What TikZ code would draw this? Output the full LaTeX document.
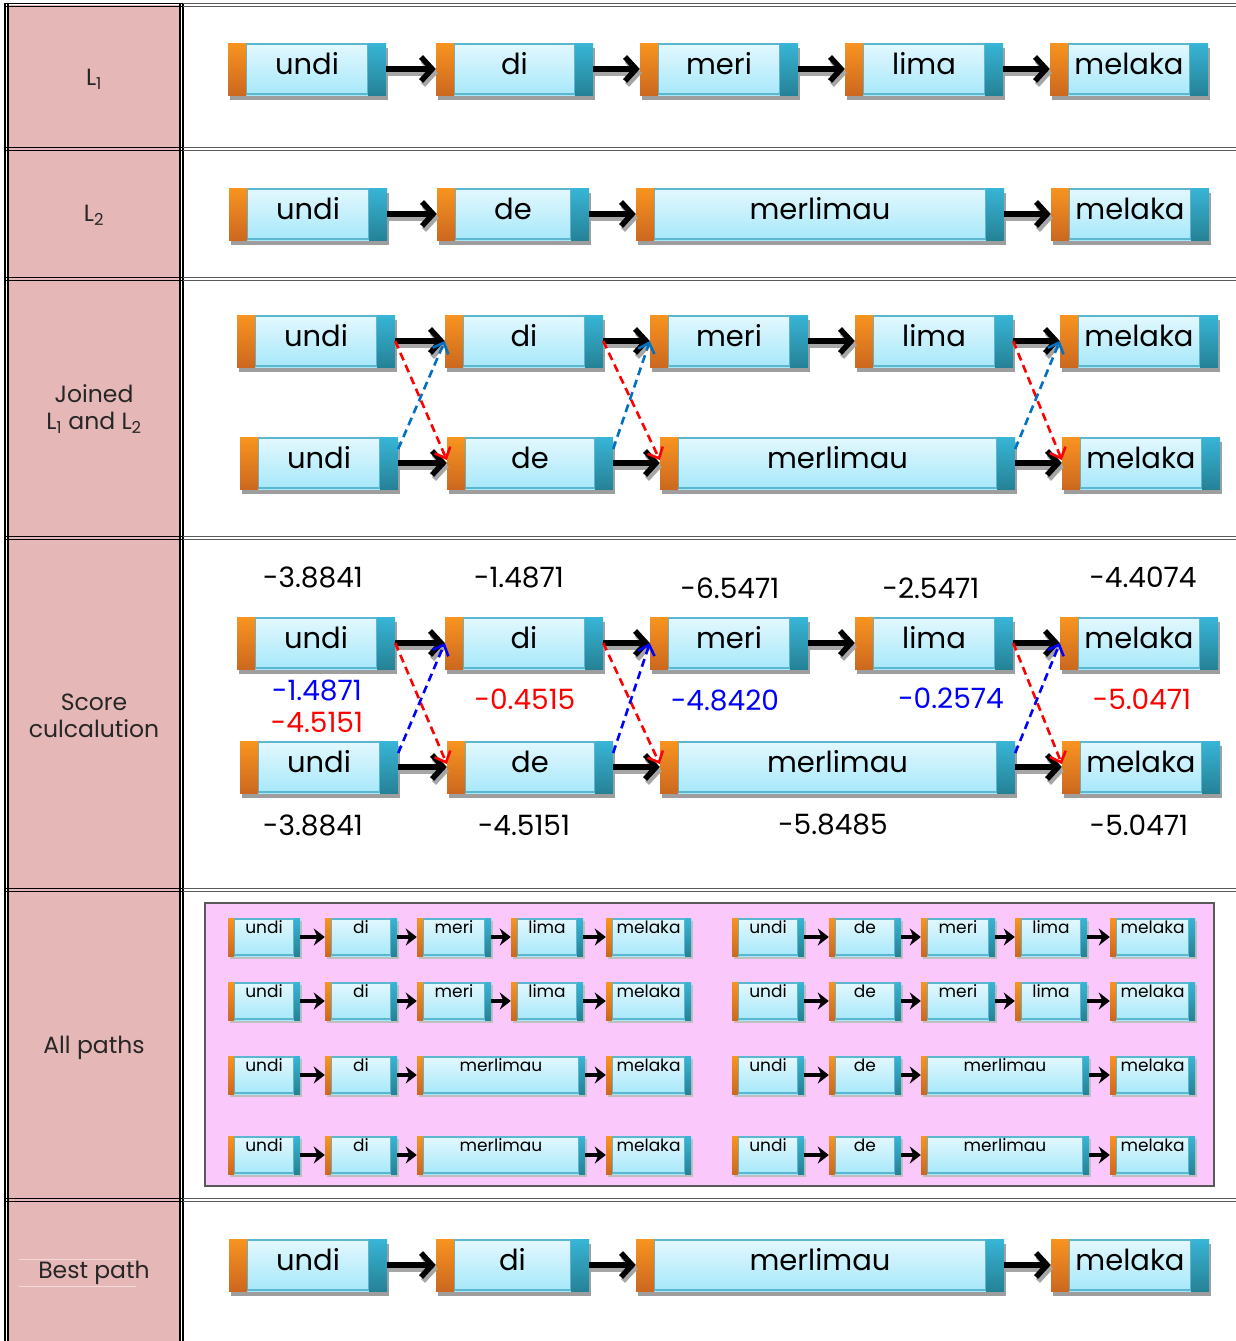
\documentclass[tikz,border=0pt]{standalone}
\usepackage{fontspec}
\setmainfont{Poppins}
\usetikzlibrary{arrows.meta,shadows}
\definecolor{cellpink}{HTML}{E5B8B7}
\definecolor{capor}{HTML}{F8941F}
\definecolor{capordk}{HTML}{CC681F}
\definecolor{capteal}{HTML}{38B5D7}
\definecolor{captealdk}{HTML}{258296}
\definecolor{bodytop}{HTML}{E4F8FE}
\definecolor{bodybot}{HTML}{A6E8FA}
\definecolor{bodyedge}{HTML}{5BB6CF}
\definecolor{pathbg}{HTML}{FAC8FA}
\definecolor{joinblue}{HTML}{0070C0}
\tikzset{
  word/.style={rectangle,inner sep=0pt,top color=bodytop,bottom color=bodybot,
    path picture={
      \draw[bodyedge,line width=1.2pt] ([xshift=#1,yshift=-1pt]path picture bounding box.north west) rectangle ([xshift=-#1,yshift=1pt]path picture bounding box.south east);
      \shade[top color=capor,bottom color=capordk] (path picture bounding box.north west) rectangle ([xshift=#1]path picture bounding box.south west);
      \shade[top color=capteal,bottom color=captealdk] ([xshift=-#1]path picture bounding box.north east) rectangle (path picture bounding box.south east);
    }},
  wbox/.style={word=18pt,minimum height=52,font=\fontsize{29}{29}\selectfont,text height=22pt,text depth=12pt,
    drop shadow={shadow xshift=2pt,shadow yshift=-5pt,fill=black!38,opacity=1}},
  mbox/.style={word=6pt,minimum height=38,font=\fontsize{17}{17}\selectfont,text height=12pt,text depth=19pt,
    drop shadow={shadow xshift=1.5pt,shadow yshift=-3pt,fill=black!25,opacity=1}},
  flow/.style={line width=5.5pt,-{Straight Barb[length=11pt,width=24pt]}},
  flowsh/.style={flow,draw=black!35},
  mflow/.style={line width=4pt,-{Stealth[length=11pt,width=17pt]}},
  cross/.style={#1,line width=2.6pt,dash pattern=on 8pt off 5pt,-{Straight Barb[length=9pt,width=17pt]}},
  rule/.style={line width=1.2pt,black},
  grule/.style={line width=1.2pt,black!65},
  cell/.style={font=\fontsize{23.5}{27}\selectfont,text=black!85,align=center},
  num/.style={font=\fontsize{28}{28}\selectfont}
}

\begin{document}
\begin{tikzpicture}[x=1pt,y=-1pt,line cap=butt]
  \useasboundingbox (0,0) rectangle (1236,1341);
  \fill[white] (0,0) rectangle (1236,1341);
  % table frame
  \fill[cellpink] (8,5) rectangle (180,1341);
  \foreach \x in {5,8,180,183}{\draw[rule] (\x,3) -- (\x,1341);}
  \foreach \y in {5,149,279,538,890,1200}{
    \draw[rule] (5,{\y-1.5}) -- (183,{\y-1.5}); \draw[rule] (5,{\y+1.5}) -- (183,{\y+1.5});
    \draw[grule] (183,{\y-1.5}) -- (1236,{\y-1.5}); \draw[grule] (183,{\y+1.5}) -- (1236,{\y+1.5});}
  \draw[cellpink!50!white,line width=0.8pt] (19,1259) -- (136,1259) (19,1286) -- (136,1286);
  \node[cell] (t1) at (94,79) {L\textsubscript{1}};
  \node[cell] (t2) at (94,215) {L\textsubscript{2}};
  \node[cell] (t3) at (94,409) {Joined\\L\textsubscript{1} and L\textsubscript{2}};
  \node[cell] (t4) at (94,716) {Score\\culcalution};
  \node[cell] (t5) at (94,1048) {All paths};
  \node[cell] (t6) at (94,1273) {Best path};

  % L1 and L2
  \foreach \n/\a/\b/\t in {1/228/386/undi,2/436/593/di,3/640/798/meri,4/845/1003/lima,5/1050/1208/melaka}
    {\node[wbox,minimum width={\b-\a}] (la\n) at ({(\a+\b)/2},69) {\t};}
  \foreach \i/\j in {1/2,2/3,3/4,4/5}{
    \draw[flowsh] ([xshift=2pt,yshift=-4pt]la\i.east) -- ([xshift=2pt,yshift=-4pt]la\j.west);
    \draw[flow] (la\i.east) -- (la\j.west);}
  \foreach \n/\a/\b/\t in {1/229/387/undi,2/437/589/de,3/636/1004/merlimau,4/1051/1209/melaka}
    {\node[wbox,minimum width={\b-\a}] (lb\n) at ({(\a+\b)/2},214) {\t};}
  \foreach \i/\j in {1/2,2/3,3/4}{
    \draw[flowsh] ([xshift=2pt,yshift=-4pt]lb\i.east) -- ([xshift=2pt,yshift=-4pt]lb\j.west);
    \draw[flow] (lb\i.east) -- (lb\j.west);}

  % joined lattice and scores
  \foreach \r/\ya/\yb/\bl in {j/341/463/joinblue,s/643/767/blue}{
    \foreach \n/\a/\b/\t in {1/237/395/undi,2/445/603/di,3/650/808/meri,4/855/1013/lima,5/1060/1218/melaka}
      {\node[wbox,minimum width={\b-\a}] (\r a\n) at ({(\a+\b)/2},\ya) {\t};}
    \foreach \n/\a/\b/\t in {1/240/398/undi,2/447/613/de,3/660/1015/merlimau,4/1062/1220/melaka}
      {\node[wbox,minimum width={\b-\a}] (\r b\n) at ({(\a+\b)/2},\yb) {\t};}
    \foreach \i/\j in {1/2,2/3,3/4,4/5}{
      \draw[flowsh] ([xshift=2pt,yshift=-4pt]\r a\i.east) -- ([xshift=2pt,yshift=-4pt]\r a\j.west);
      \draw[flow] (\r a\i.east) -- (\r a\j.west);}
    \foreach \i/\j in {1/2,2/3,3/4}{
      \draw[flowsh] ([xshift=2pt,yshift=-4pt]\r b\i.east) -- ([xshift=2pt,yshift=-4pt]\r b\j.west);
      \draw[flow] (\r b\i.east) -- (\r b\j.west);}
    \foreach \i/\j/\k/\m in {1/2/1/2,2/3/2/3,4/4/3/5}{
      \draw[cross=red] (\r a\i.east) -- ([yshift=3pt]\r b\j.west);
      \draw[cross=\bl] ([yshift=14pt]\r b\k.east) -- (\r a\m.west);}
  }
  \foreach \n/\x/\y/\v in {1/313/577/-3.8841,2/519/577/-1.4871,3/730/588/-6.5471,4/931/588/-2.5471,5/1143/577/-4.4074}
    {\node[num] (st\n) at (\x,\y) {\v};}
  \foreach \n/\x/\y/\v in {1/313/825/-3.8841,2/524/825/-4.5151,3/833/824/-5.8485,4/1139/825/-5.0471}
    {\node[num] (sd\n) at (\x,\y) {\v};}
  \foreach \n/\x/\y/\c/\v in {1/317/690/blue/-1.4871,2/317/722/red/-4.5151,3/525/699/red/-0.4515,4/725/700/blue/-4.8420,5/951/698/blue/-0.2574,6/1142/699/red/-5.0471}
    {\node[num,text=\c] (sm\n) at (\x,\y) {\v};}

  % all paths
  \draw[fill=pathbg,draw=black!65,line width=1.5pt] (205,903) rectangle (1214,1186);
  \foreach \c/\o/\w in {1/0/di,2/504/de}{
    \foreach \r/\y in {1/937,2/1001}{
      \foreach \n/\a/\b/\t in {1/228/300/undi,2/325/397/\w,3/417/491/meri,4/511/583/lima,5/606/691/melaka}
        {\node[mbox,minimum width={\b-\a}] (p\c\r\n) at ({(\a+\b)/2+\o},\y) {\t};}
      \foreach \i/\j in {1/2,2/3,3/4,4/5}{\draw[mflow] (p\c\r\i.east) -- (p\c\r\j.west);}}
    \foreach \r/\y in {3/1075,4/1155}{
      \foreach \n/\a/\b/\t in {1/228/300/undi,2/325/397/\w,3/417/585/merlimau,4/606/691/melaka}
        {\node[mbox,minimum width={\b-\a}] (p\c\r\n) at ({(\a+\b)/2+\o},\y) {\t};}
      \foreach \i/\j in {1/2,2/3,3/4}{\draw[mflow] (p\c\r\i.east) -- (p\c\r\j.west);}}
  }

  % best path
  \foreach \n/\a/\b/\t in {1/229/387/undi,2/436/589/di,3/636/1004/merlimau,4/1051/1209/melaka}
    {\node[wbox,minimum width={\b-\a}] (bp\n) at ({(\a+\b)/2},1265) {\t};}
  \foreach \i/\j in {1/2,2/3,3/4}{
    \draw[flowsh] ([xshift=2pt,yshift=-4pt]bp\i.east) -- ([xshift=2pt,yshift=-4pt]bp\j.west);
    \draw[flow] (bp\i.east) -- (bp\j.west);}
\end{tikzpicture}
\end{document}
